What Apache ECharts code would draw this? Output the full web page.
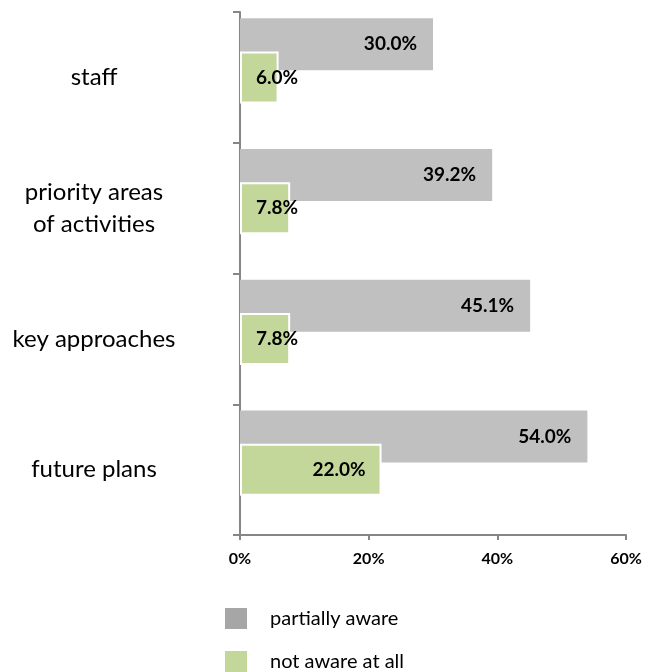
<!DOCTYPE html>
<html>
<head>
<meta charset="utf-8">
<script src="https://cdn.jsdelivr.net/npm/echarts@6/dist/echarts.min.js"></script>
<style>
html,body{margin:0;padding:0;background:#fff;}
#c{width:657px;height:672px;}
</style>
</head>
<body>
<div id="c"></div>
<script>
const categories = ['staff', 'priority areas\nof activities', 'key approaches', 'future plans'];
const partiallyAware = [30.0, 39.2, 45.1, 54.0];
const notAwareAtAll = [6.0, 7.8, 7.8, 22.0];
const seriesNames = ['partially aware', 'not aware at all'];
const xTicks = [0, 20, 40, 60];

const FONT = 'Lato';
const chart = echarts.init(document.getElementById('c'));

function labelFor(v, isGreen) {
  if (isGreen && v < 10) {
    return { position: 'insideLeft', distance: 16 };
  }
  return { position: 'insideRight', distance: 16 };
}

const baseLabel = {
  show: true,
  fontFamily: FONT,
  fontWeight: 'bold',
  fontSize: 19,
  color: '#000',
  formatter: p => p.value.toFixed(1) + '%'
};

chart.setOption({
  animation: false,
  textStyle: { fontFamily: FONT },
  grid: { left: 240, right: 31, top: 12, bottom: 137 },
  legend: {
    orient: 'vertical',
    left: 220,
    top: 603,
    height: 120,
    itemWidth: 22,
    itemHeight: 21,
    itemGap: 22,
    icon: 'rect',
    textStyle: { fontFamily: FONT, fontSize: 20, color: '#000', padding: [0, 0, 0, 18] },
    data: [
      { name: seriesNames[0], itemStyle: { color: '#a6a6a6', borderWidth: 0 } },
      { name: seriesNames[1], itemStyle: { color: '#c4d79b', borderWidth: 0 } }
    ]
  },
  xAxis: {
    type: 'value',
    min: xTicks[0],
    max: xTicks[xTicks.length - 1],
    interval: xTicks[1] - xTicks[0],
    axisLine: { show: true, lineStyle: { color: '#868686', width: 2 } },
    axisTick: { show: true, length: 5, lineStyle: { color: '#868686', width: 2 } },
    splitLine: { show: false },
    axisLabel: {
      fontFamily: FONT, fontWeight: 'bold', fontSize: 16, color: '#000', margin: 16,
      formatter: v => v + '%'
    }
  },
  yAxis: {
    type: 'category',
    inverse: true,
    data: categories,
    axisLine: { show: true, lineStyle: { color: '#868686', width: 2 } },
    axisTick: { show: true, length: 7, lineStyle: { color: '#868686', width: 2 } },
    axisLabel: {
      fontFamily: FONT, fontSize: 24, color: '#000', margin: 146, align: 'center', lineHeight: 32
    }
  },
  series: [
    {
      name: seriesNames[0],
      type: 'bar',
      barWidth: 52,
      barGap: '-36.5%',
      itemStyle: { color: '#c0c0c0' },
      data: partiallyAware.map(v => ({ value: v, label: labelFor(v, false) })),
      label: baseLabel
    },
    {
      name: seriesNames[1],
      type: 'bar',
      barWidth: 52,
      barGap: '-36.5%',
      itemStyle: { color: '#c4d79b', borderColor: '#fff', borderWidth: 2 },
      data: notAwareAtAll.map(v => ({ value: v, label: labelFor(v, true) })),
      label: baseLabel
    },
    {
      name: 'spacer',
      type: 'bar',
      barWidth: 52,
      barGap: '-36.5%',
      data: categories.map(() => null),
      silent: true
    }
  ]
});
</script>
</body>
</html>
